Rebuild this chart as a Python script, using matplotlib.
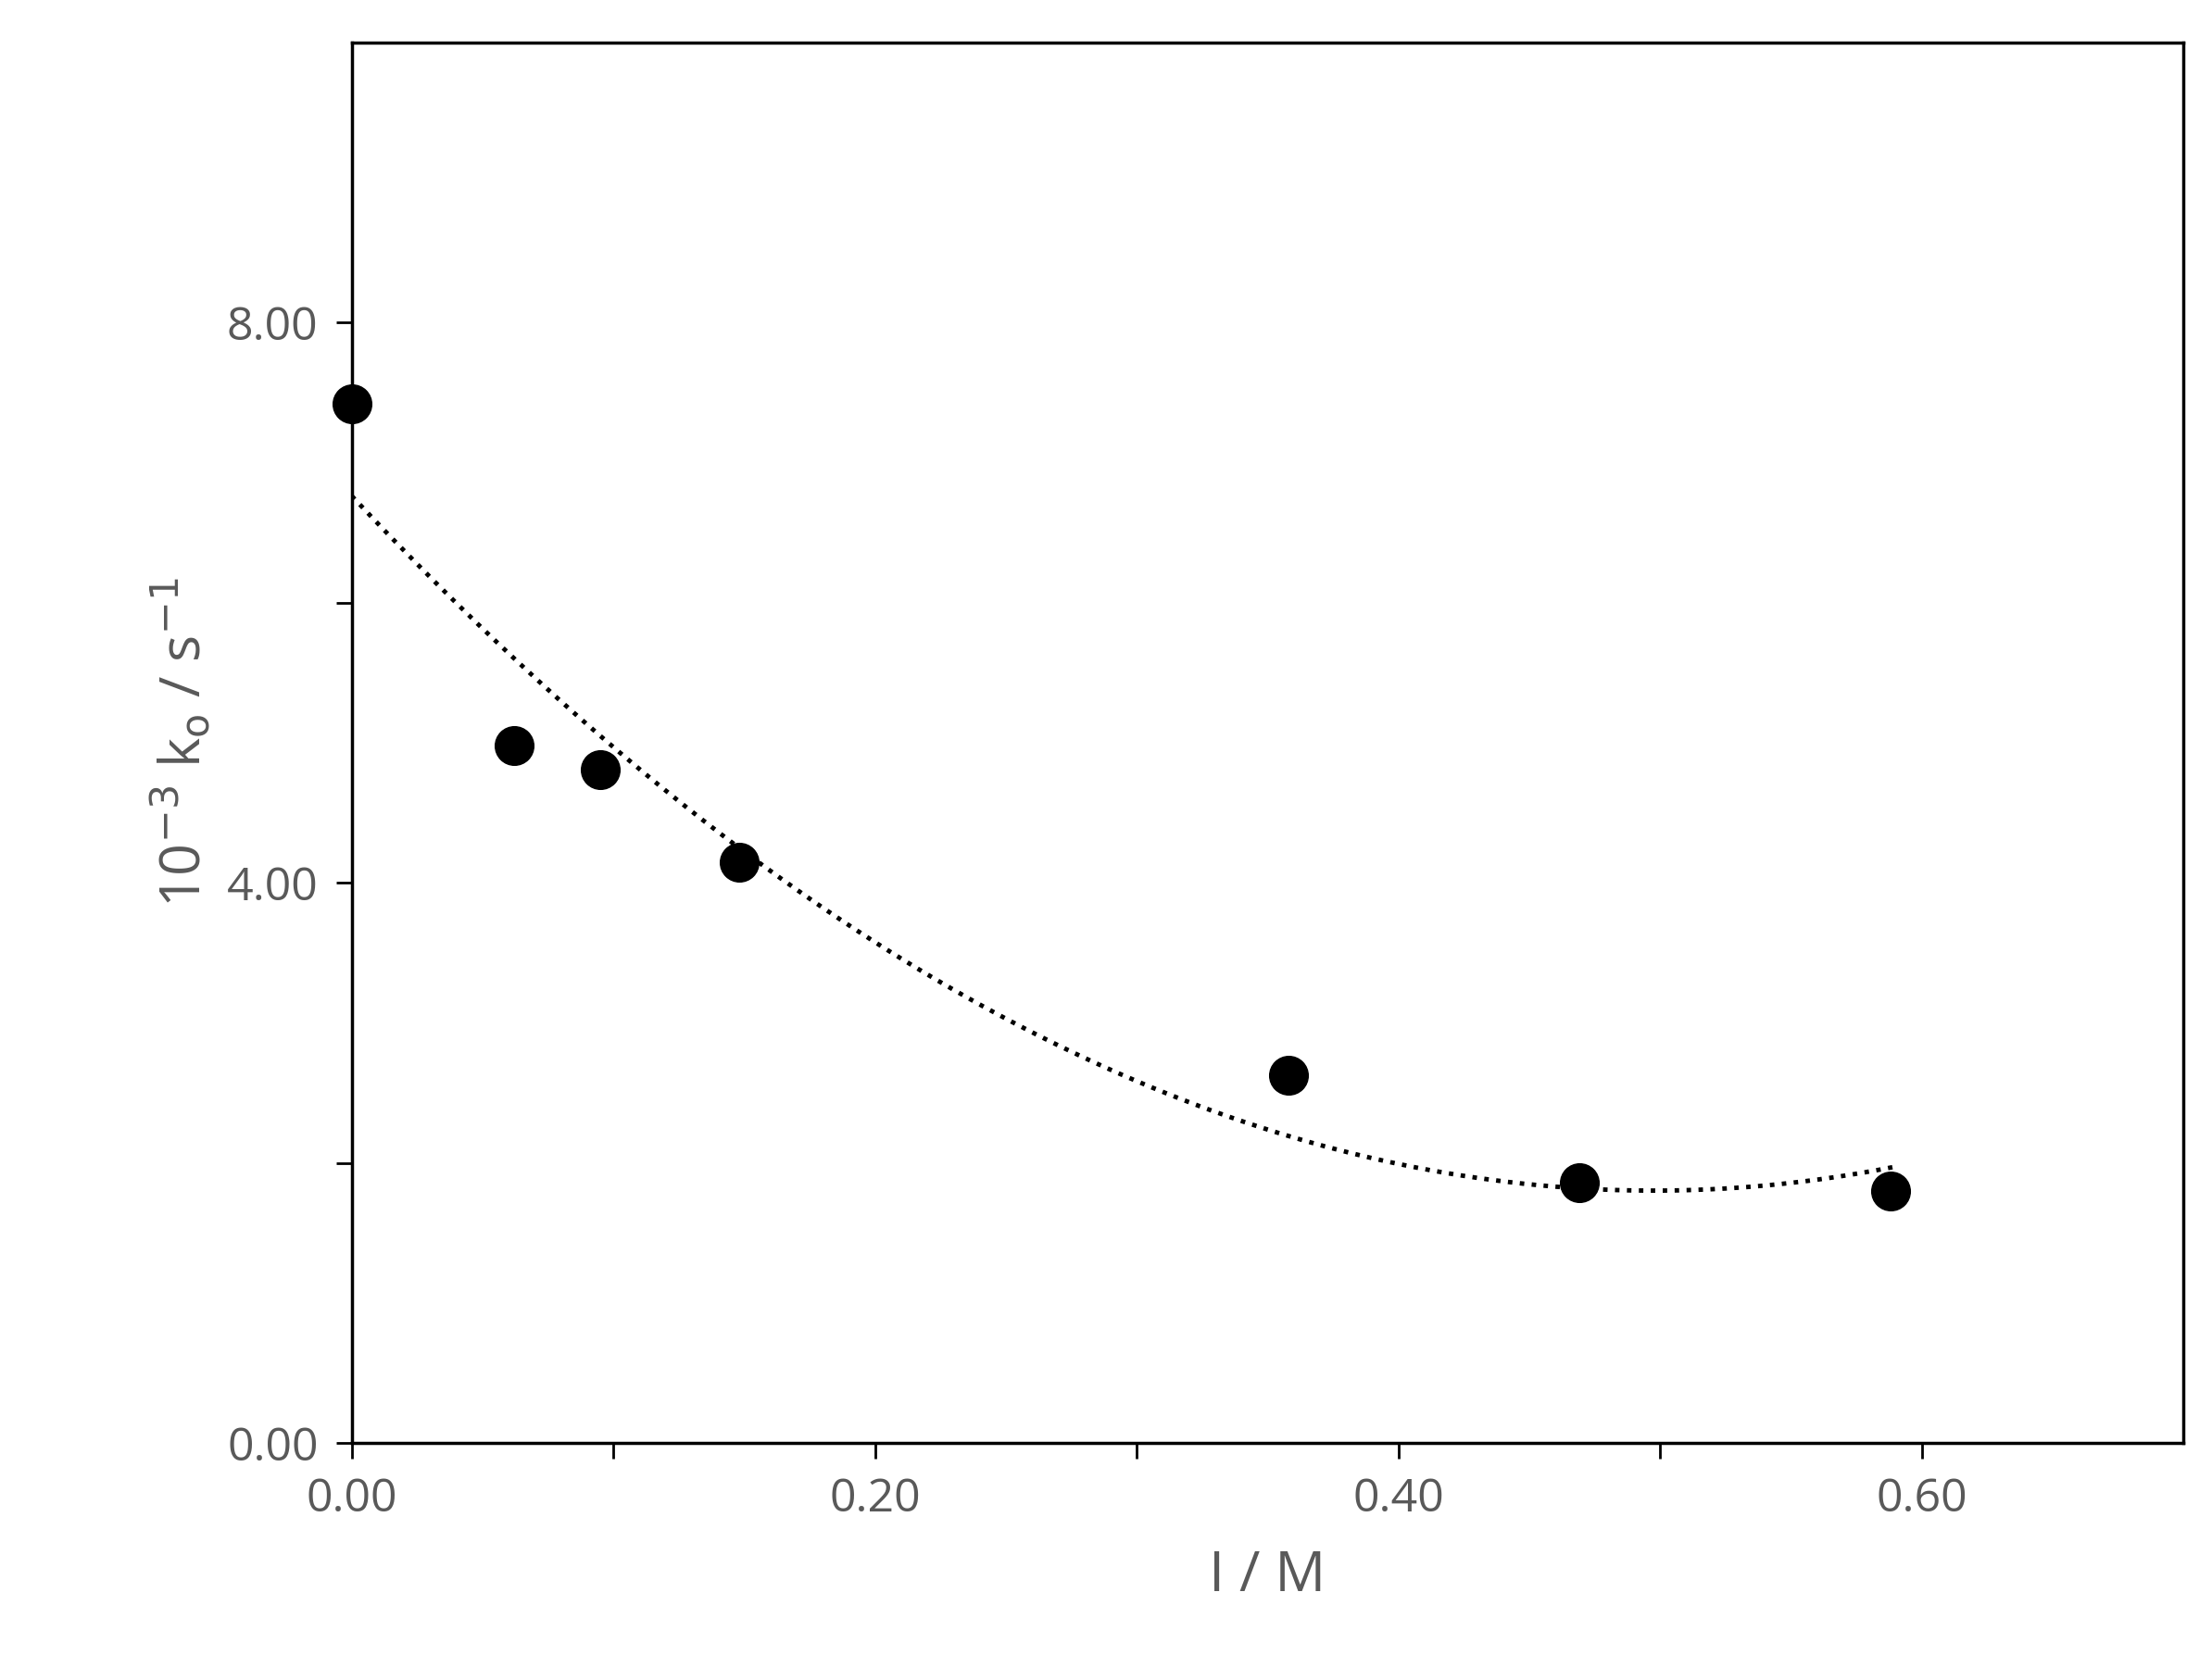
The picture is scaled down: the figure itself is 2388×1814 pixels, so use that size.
import numpy as np
import matplotlib
matplotlib.use("Agg")
import matplotlib.pyplot as plt

ionic = [0.0, 0.062, 0.095, 0.148, 0.358, 0.469, 0.588]
k0 = [7.42, 4.98, 4.81, 4.15, 2.63, 1.86, 1.80]

plt.rcParams['font.family'] = ['Open Sans', 'DejaVu Sans']
fig = plt.figure(figsize=(23.88, 18.14), dpi=100)
ax = fig.add_axes([248/1560, 1-1018/1185, (1540-248)/1560, (1018-30)/1185])

coef = np.polyfit(ionic, k0, 2)
xs = np.linspace(0, 0.59, 300)
ax.plot(xs, np.polyval(coef, xs), ':', color='black', lw=3.5)
ax.plot(ionic, k0, 'o', color='black', ms=30, clip_on=False, zorder=5)

ax.set_xlim(0, 0.70)
ax.set_ylim(0, 10)
ax.set_xticks([0, 0.2, 0.4, 0.6])
ax.set_xticklabels(['0.00', '0.20', '0.40', '0.60'])
ax.set_xticks([0.1, 0.3, 0.5], minor=True)
ax.set_yticks([0, 4, 8])
ax.set_yticklabels(['0.00', '4.00', '8.00'])
ax.set_yticks([2, 6], minor=True)
grey = '#595959'
ax.tick_params(which='both', labelsize=36, colors='black', labelcolor=grey, width=2)
ax.tick_params(which='major', length=12, direction='out', pad=14)
ax.tick_params(which='minor', length=12, direction='out')
for s in ax.spines.values():
    s.set_linewidth(2.5)
ax.set_xlabel('I / M', fontsize=44, color=grey, labelpad=20)
ax.set_ylabel(r'10$^{-3}$ k$_{\rm o}$ / s$^{-1}$', fontsize=44, color=grey, labelpad=10)
fig.savefig('out.png', dpi=100)
